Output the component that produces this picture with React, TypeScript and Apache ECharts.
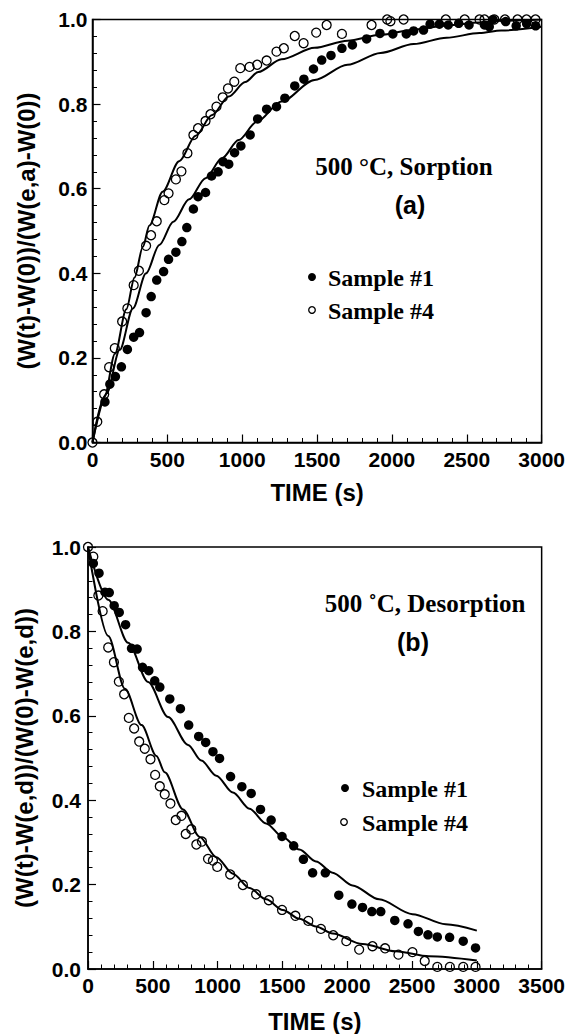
import React, { useEffect, useRef } from "react";
import * as echarts from "echarts";

// ---- (a) 500 °C, Sorption ----
const sorpSample1: number[][] = [
  [83, 0.096], [116, 0.138], [153, 0.156], [193, 0.179], [233, 0.22], [275, 0.249], [314, 0.26],
  [358, 0.307], [392, 0.345], [429, 0.384], [475, 0.404], [508, 0.433], [557, 0.45], [597, 0.475],
  [630, 0.508], [674, 0.552], [705, 0.581], [755, 0.591], [795, 0.63], [839, 0.64], [872, 0.664],
  [910, 0.658], [949, 0.685], [991, 0.701], [1053, 0.727], [1103, 0.765], [1163, 0.788], [1229, 0.794],
  [1285, 0.814], [1351, 0.843], [1412, 0.859], [1476, 0.883], [1531, 0.904], [1593, 0.915],
  [1666, 0.932], [1736, 0.94], [1831, 0.954], [1920, 0.967], [2006, 0.966], [2096, 0.966],
  [2145, 0.973], [2211, 0.975], [2255, 0.989], [2317, 0.989], [2376, 0.987], [2446, 0.991],
  [2515, 0.987], [2618, 0.987], [2650, 0.983], [2674, 1.0], [2760, 0.995], [2830, 0.985],
  [2900, 0.99], [2960, 0.985],
];
const sorpSample4: number[][] = [
  [0, 0], [32, 0.049], [78, 0.114], [111, 0.178], [149, 0.223], [198, 0.286], [233, 0.317],
  [275, 0.372], [310, 0.406], [358, 0.465], [391, 0.49], [429, 0.523], [480, 0.573], [508, 0.589],
  [557, 0.622], [594, 0.641], [634, 0.684], [674, 0.727], [705, 0.743], [755, 0.76], [788, 0.776],
  [828, 0.794], [870, 0.816], [905, 0.837], [947, 0.853], [987, 0.885], [1049, 0.888], [1100, 0.893],
  [1163, 0.903], [1229, 0.924], [1278, 0.932], [1351, 0.961], [1410, 0.944], [1494, 0.969],
  [1564, 0.987], [1666, 0.966], [1864, 0.987], [1968, 1.0], [1990, 0.996], [2078, 1.0],
  [2360, 1.0], [2486, 1.0], [2585, 1.0], [2618, 1.0], [2684, 1.0], [2755, 1.0], [2839, 1.0],
  [2899, 1.0], [2959, 1.0],
];
const sorpFit1: number[][] = [
  [0, 0], [94, 0.116], [182, 0.219], [270, 0.317], [358, 0.4], [446, 0.467], [540, 0.522],
  [645, 0.575], [755, 0.625], [865, 0.672], [976, 0.715], [1097, 0.758], [1262, 0.806],
  [1483, 0.857], [1703, 0.893], [1924, 0.921], [2145, 0.942], [2365, 0.957], [2585, 0.968],
  [2729, 0.974], [3000, 0.983],
];
const sorpFit4: number[][] = [
  [0, 0], [80, 0.108], [150, 0.21], [226, 0.315], [281, 0.39], [336, 0.462], [380, 0.513],
  [469, 0.593], [579, 0.665], [689, 0.725], [799, 0.774], [910, 0.818], [1020, 0.852],
  [1108, 0.876], [1262, 0.906], [1483, 0.933], [1703, 0.95], [1924, 0.964], [2145, 0.976],
  [2365, 0.986], [2585, 0.993], [2729, 0.997], [3000, 1.0],
];

// ---- (b) 500 ˚C, Desorption ----
const desSample1: number[][] = [
  [41, 0.961], [85, 0.938], [131, 0.893], [164, 0.892], [202, 0.861], [241, 0.845], [290, 0.816],
  [336, 0.76], [379, 0.758], [421, 0.715], [469, 0.707], [515, 0.683], [554, 0.668], [631, 0.64],
  [713, 0.617], [777, 0.578], [854, 0.551], [908, 0.537], [964, 0.515], [1015, 0.499],
  [1100, 0.456], [1187, 0.432], [1259, 0.416], [1331, 0.378], [1413, 0.353], [1497, 0.314],
  [1587, 0.292], [1662, 0.26], [1733, 0.228], [1831, 0.228], [1935, 0.175], [2036, 0.154],
  [2118, 0.146], [2190, 0.136], [2259, 0.136], [2367, 0.115], [2469, 0.107], [2549, 0.089],
  [2623, 0.081], [2695, 0.076], [2790, 0.075], [2895, 0.066], [2990, 0.05],
];
const desSample4: number[][] = [
  [0, 1.0], [41, 0.977], [80, 0.885], [113, 0.848], [156, 0.762], [200, 0.727], [238, 0.681],
  [279, 0.651], [315, 0.595], [356, 0.57], [395, 0.539], [438, 0.522], [482, 0.497], [518, 0.46],
  [554, 0.433], [592, 0.414], [636, 0.392], [677, 0.353], [721, 0.363], [754, 0.32], [797, 0.331],
  [836, 0.295], [879, 0.302], [926, 0.261], [964, 0.257], [997, 0.242], [1097, 0.224],
  [1195, 0.199], [1297, 0.177], [1395, 0.163], [1497, 0.14], [1600, 0.126], [1700, 0.114],
  [1797, 0.095], [1892, 0.08], [1993, 0.066], [2092, 0.046], [2195, 0.054], [2292, 0.049],
  [2395, 0.034], [2503, 0.04], [2598, 0.019], [2695, 0.005], [2792, 0.005], [2895, 0.005],
  [2990, 0.005],
];
const desFit1: number[][] = [
  [0, 1.0], [156, 0.875], [310, 0.773], [464, 0.68], [618, 0.597], [772, 0.531], [874, 0.494],
  [990, 0.458], [1118, 0.418], [1246, 0.38], [1374, 0.345], [1503, 0.313], [1631, 0.283],
  [1759, 0.255], [1887, 0.228], [2041, 0.198], [2246, 0.165], [2503, 0.13], [2759, 0.106],
  [3000, 0.091],
];
const desFit4: number[][] = [
  [0, 1.0], [156, 0.789], [285, 0.664], [413, 0.578], [528, 0.505], [592, 0.466], [733, 0.378],
  [862, 0.313], [990, 0.265], [1118, 0.226], [1246, 0.192], [1374, 0.165], [1503, 0.14],
  [1631, 0.119], [1759, 0.101], [1887, 0.084], [2118, 0.059], [2374, 0.042], [2631, 0.03],
  [3000, 0.02],
];

const SANS = "Liberation Sans";
const SERIF = "Liberation Serif";

function axisBase() {
  return {
    type: "value" as const,
    axisLine: { show: true, onZero: false, lineStyle: { color: "#000", width: 1.5 } },
    axisTick: { show: true, inside: true, length: 8, lineStyle: { color: "#000", width: 1.2 } },
    minorTick: { show: true, splitNumber: 5, length: 4.5, lineStyle: { color: "#000", width: 1 } },
    splitLine: { show: false },
    minorSplitLine: { show: false },
    axisLabel: {
      color: "#000", fontFamily: SANS, fontWeight: "bold" as const, fontSize: 21, margin: 6,
      formatter: (v: number) => String(v),
    },
    nameTextStyle: { color: "#000", fontFamily: SANS, fontWeight: "bold" as const, fontSize: 24 },
    nameLocation: "middle" as const,
  };
}

function lineSeries(data: number[][], idx: number) {
  return {
    type: "line", xAxisIndex: idx, yAxisIndex: idx, data, showSymbol: false, symbol: "none",
    smooth: 0.3, smoothMonotone: "x", lineStyle: { color: "#000", width: 2 }, z: 2, silent: true,
  };
}
function filledSeries(data: number[][], idx: number) {
  return {
    type: "scatter", xAxisIndex: idx, yAxisIndex: idx, data, symbol: "circle", symbolSize: 9.5,
    itemStyle: { color: "#000", opacity: 1 }, clip: false, z: 3,
  };
}
function openSeries(data: number[][], idx: number) {
  return {
    type: "scatter", xAxisIndex: idx, yAxisIndex: idx, data, symbol: "circle", symbolSize: 9,
    itemStyle: { color: "rgba(255,255,255,0)", borderColor: "#000", borderWidth: 1.3, opacity: 1 },
    clip: false, z: 3,
  };
}

function txt(text: string, x: number, y: number, font: string, size: number, align: string) {
  return {
    type: "text", x, y,
    style: { text, fill: "#000", font: `bold ${size}px "${font}"`, textAlign: align, textVerticalAlign: "middle" },
  };
}

export default function App() {
  const ref = useRef<HTMLDivElement>(null);
  useEffect(() => {
    const chart = echarts.init(ref.current!, null, { renderer: "svg" });
    const fmt = (v: number) => v.toFixed(1);
    const option: any = {
      animation: false,
      backgroundColor: "#fff",
      grid: [
        { left: 92.5, top: 19.5, width: 453, height: 423, show: true, borderColor: "#000", borderWidth: 1.5, containLabel: false },
        { left: 88, top: 547, width: 455, height: 426, show: true, borderColor: "#000", borderWidth: 1.5, containLabel: false },
      ],
      xAxis: [
        { ...axisBase(), gridIndex: 0, min: 0, max: 3000, interval: 500, name: "TIME (s)", nameGap: 38 },
        { ...axisBase(), gridIndex: 1, min: 0, max: 3500, interval: 500, name: "TIME (s)", nameGap: 40 },
      ],
      yAxis: [
        { ...axisBase(), gridIndex: 0, min: 0, max: 1, interval: 0.2, name: "(W(t)-W(0))/(W(e,a)-W(0))", nameGap: 54,
          axisLabel: { ...axisBase().axisLabel, formatter: fmt, margin: 5 } },
        { ...axisBase(), gridIndex: 1, min: 0, max: 1, interval: 0.2, name: "(W(t)-W(e,d))/(W(0)-W(e,d))", nameGap: 52,
          axisLabel: { ...axisBase().axisLabel, formatter: fmt, margin: 7 } },
      ],
      series: [
        lineSeries(sorpFit1, 0), lineSeries(sorpFit4, 0), filledSeries(sorpSample1, 0), openSeries(sorpSample4, 0),
        lineSeries(desFit1, 1), lineSeries(desFit4, 1), filledSeries(desSample1, 1), openSeries(desSample4, 1),
      ],
      graphic: [
        txt("500 °C, Sorption", 404, 166, SERIF, 25, "center"),
        txt("(a)", 410, 205, SANS, 25, "center"),
        { type: "circle", shape: { cx: 312, cy: 277, r: 4 }, style: { fill: "#000" } },
        txt("Sample #1", 328, 278, SERIF, 24, "left"),
        { type: "circle", shape: { cx: 312, cy: 310, r: 3.3 }, style: { fill: "#fff", stroke: "#000", lineWidth: 1.3 } },
        txt("Sample #4", 328, 311, SERIF, 24, "left"),
        txt("500 ˚C, Desorption", 425, 603, SERIF, 25, "center"),
        txt("(b)", 413, 642, SANS, 25, "center"),
        { type: "circle", shape: { cx: 345, cy: 788, r: 4 }, style: { fill: "#000" } },
        txt("Sample #1", 362, 789, SERIF, 24, "left"),
        { type: "circle", shape: { cx: 344, cy: 822, r: 3.3 }, style: { fill: "#fff", stroke: "#000", lineWidth: 1.3 } },
        txt("Sample #4", 362, 823, SERIF, 24, "left"),
      ],
    };
    chart.setOption(option);
    return () => chart.dispose();
  }, []);
  return <div ref={ref} style={{ position: "absolute", left: 0, top: 0, width: 568, height: 1034 }} />;
}
